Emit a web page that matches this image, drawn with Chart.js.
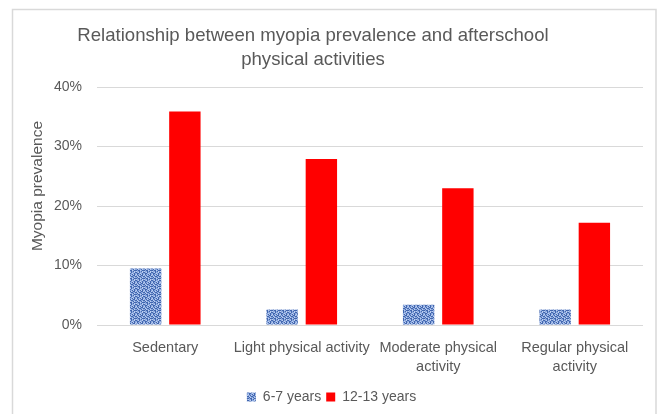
<!DOCTYPE html>
<html>
<head>
<meta charset="utf-8">
<script src="https://cdn.jsdelivr.net/npm/chart.js@4/dist/chart.umd.min.js"></script>
<style>
  body { margin: 0; background: #fff; }
  #wrap { width: 660px; height: 414px; }
</style>
</head>
<body>
<div id="wrap"><canvas id="myopiaChart"></canvas></div>
<script>
const TITLE_LINES = ['Relationship between myopia prevalence and afterschool', 'physical activities'];
const Y_TITLE = 'Myopia prevalence';
const categories = ['Sedentary', 'Light physical activity', ['Moderate physical', 'activity'], ['Regular physical', 'activity']];
const young = [9.5, 2.6, 3.4, 2.6];      // 6-7 years
const teen = [35.9, 27.9, 23.0, 17.2];   // 12-13 years
const yTicks = [0, 10, 20, 30, 40];

const GREY = '#595959';
const FONT = 'Liberation Sans';

// textured blue fill like the office "texture" bars
function makeTexture() {
    const rows = [
        'dbldbbld',
        'bddblbdb',
        'ldbbdldb',
        'bbdlbddl',
        'dlbddbbd',
        'bdlbbdlb',
        'dbddlbdd',
        'lbbdbdlb'
    ];
    const colors = { d: '#4266ae', b: '#8aa8de', l: '#bccdef' };
    const c = document.createElement('canvas');
    c.width = 8;
    c.height = 8;
    const g = c.getContext('2d');
    rows.forEach((row, y) => {
        for (let x = 0; x < row.length; x++) {
            g.fillStyle = colors[row[x]];
            g.fillRect(x, y, 1, 1);
        }
    });
    return g.createPattern(c, 'repeat');
}
const texture = makeTexture();

const frame = {
    id: 'frame',
    beforeDraw(chart) {
        const ctx = chart.ctx;
        ctx.save();
        ctx.fillStyle = '#fff';
        ctx.fillRect(0, 0, chart.width, chart.height);
        ctx.strokeStyle = '#d9d9d9';
        ctx.lineWidth = 1.5;
        ctx.strokeRect(12.5, 9.5, 643.5, 420);
        ctx.restore();
    },
    afterDraw(chart) {
        const ctx = chart.ctx;
        ctx.save();
        ctx.fillStyle = GREY;
        ctx.font = '18.6px "' + FONT + '"';
        ctx.textAlign = 'center';
        ctx.textBaseline = 'middle';
        ctx.fillText(TITLE_LINES[0], 313, 36);
        ctx.fillText(TITLE_LINES[1], 313, 60);
        // y axis title
        ctx.font = '15.5px "' + FONT + '"';
        ctx.translate(38, 186);
        ctx.rotate(-Math.PI / 2);
        ctx.fillText(Y_TITLE, 0, 0);
        ctx.restore();
    }
};

const chartContext = document.getElementById('myopiaChart').getContext('2d');
const chart = new Chart(chartContext, {
    type: 'bar',
    data: {
        labels: categories,
        datasets: [
            {
                label: '6-7 years',
                data: young,
                backgroundColor: texture,
                borderWidth: 0
            },
            {
                label: '12-13 years',
                data: teen,
                backgroundColor: '#ff0000',
                borderWidth: 0
            }
        ]
    },
    plugins: [frame],
    options: {
        responsive: true,
        maintainAspectRatio: false,
        animation: false,
        layout: {
            padding: { top: 87, left: 20, right: 17, bottom: 0 }
        },
        datasets: {
            bar: { categoryPercentage: 0.575, barPercentage: 0.8 }
        },
        plugins: {
            title: { display: false },
            tooltip: { enabled: false },
            legend: {
                position: 'bottom',
                labels: {
                    color: GREY,
                    boxWidth: 9,
                    boxHeight: 9,
                    padding: 5,
                    font: { family: FONT, size: 14 }
                }
            }
        },
        scales: {
            x: {
                afterFit(scale) { scale.height += 4; },
                grid: { display: false },
                border: { display: false },
                ticks: {
                    color: GREY,
                    maxRotation: 0,
                    autoSkip: false,
                    padding: 5,
                    font: { family: FONT, size: 14.5, lineHeight: 1.31 }
                }
            },
            y: {
                min: 0,
                max: 40,
                afterFit(scale) { scale.width = 77; },
                afterBuildTicks(scale) { scale.ticks = yTicks.map(v => ({ value: v })); },
                grid: { color: '#d9d9d9', drawTicks: false },
                border: { display: false },
                ticks: {
                    color: GREY,
                    padding: 15,
                    font: { family: FONT, size: 14 },
                    callback: v => v + '%'
                }
            }
        }
    }
});
</script>
</body>
</html>
